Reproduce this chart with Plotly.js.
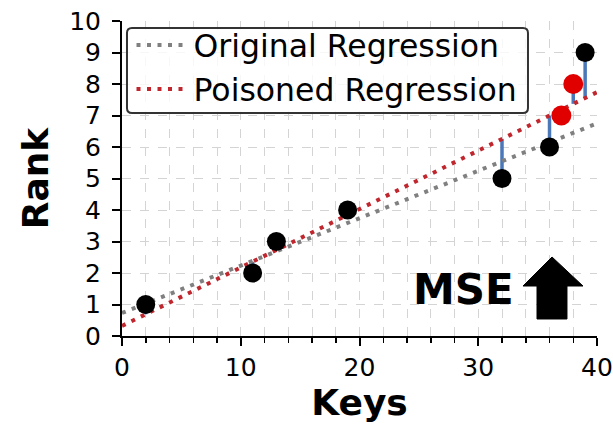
<!DOCTYPE html>
<html>
<head>
<meta charset="utf-8">
<script src="https://cdn.plot.ly/plotly-3.0.1.min.js"></script>
<style>html,body{margin:0;padding:0;background:#fff;}#chart{width:613px;height:425px;}</style>
</head>
<body>
<div id="chart"></div>
<script>
// Legitimate keys and their ranks
const keys = [2, 11, 13, 19, 32, 36, 39];
const ranks = [1, 2, 3, 4, 5, 6, 9];
// Poisoned keys and their ranks
const poisonKeys = [37, 38];
const poisonRanks = [7, 8];
// Regression lines (endpoints)
const origLineX = [0, 40];
const origLineY = [0.73, 6.75];
const poisLineX = [0, 40];
const poisLineY = [0.32, 7.74];
// Residuals: key, rank, value on poisoned line
const residKeys = [2, 11, 13, 19, 32, 36, 37, 38, 39];
const residRanks = [1, 2, 3, 4, 5, 6, 7, 8, 9];
const residLineVals = [0.69, 2.36, 2.73, 3.84, 6.26, 7.0, 7.19, 7.37, 7.56];
// Tick labels
const xTicks = [0, 10, 20, 30, 40];
const yTicks = [0, 1, 2, 3, 4, 5, 6, 7, 8, 9, 10];

const rx = [], ry = [];
residKeys.forEach((k, i) => { rx.push(k, k, null); ry.push(residRanks[i], residLineVals[i], null); });

const FONT = 'DejaVu Sans, sans-serif';
const traces = [
  {x: rx, y: ry, mode: 'lines', line: {color: '#4a78b8', width: 3.5}, showlegend: false, hoverinfo: 'skip'},
  {x: origLineX, y: origLineY, mode: 'lines', name: 'Original Regression',
   line: {color: '#808080', width: 4, dash: '4px,6.5px'}},
  {x: poisLineX, y: poisLineY, mode: 'lines', name: 'Poisoned Regression',
   line: {color: '#c0262d', width: 4, dash: '4px,6.5px'}},
  {x: keys, y: ranks, mode: 'markers', marker: {color: '#000', size: 19}, showlegend: false, cliponaxis: false},
  {x: poisonKeys, y: poisonRanks, mode: 'markers', marker: {color: '#e00000', size: 20}, showlegend: false, cliponaxis: false}
];

// rounded legend frame (paper coords)
const fx0 = 0.0105, fx1 = 0.8547, fy0 = 0.7079, fy1 = 0.9778, crx = 0.0105, cry = 0.0159;
const framePath = `M ${fx0+crx} ${fy1} L ${fx1-crx} ${fy1} Q ${fx1} ${fy1} ${fx1} ${fy1-cry} L ${fx1} ${fy0+cry} Q ${fx1} ${fy0} ${fx1-crx} ${fy0} L ${fx0+crx} ${fy0} Q ${fx0} ${fy0} ${fx0} ${fy0+cry} L ${fx0} ${fy1-cry} Q ${fx0} ${fy1} ${fx0+crx} ${fy1} Z`;

const layout = {
  width: 613, height: 425,
  margin: {l: 122, r: 16, t: 21, b: 89},
  paper_bgcolor: '#fff', plot_bgcolor: '#fff',
  font: {family: FONT, color: '#000'},
  showlegend: true,
  legend: {x: 0.02, y: 1.0095, xanchor: 'left', yanchor: 'top',
    bgcolor: 'rgba(0,0,0,0)', borderwidth: 0,
    font: {size: 31.5, family: FONT, color: '#000'}, itemwidth: 52, tracegroupgap: 0},
  xaxis: {
    range: [0, 40], tickvals: xTicks, ticktext: xTicks.map(String),
    showline: true, linecolor: '#000', linewidth: 2, mirror: false,
    ticks: 'outside', ticklen: 8, tickwidth: 2, tickcolor: '#000',
    tickfont: {size: 25, family: FONT}, ticklabelstandoff: 0,
    showgrid: true, gridcolor: '#d4d4d4', gridwidth: 1, griddash: 'dash',
    minor: {dtick: 2, tick0: 0, ticks: 'outside', ticklen: 5, tickwidth: 1.5, tickcolor: '#000',
            showgrid: true, gridcolor: '#d4d4d4', gridwidth: 1, griddash: 'dash'},
    zeroline: false, automargin: false,
    title: {text: '<b>Keys</b>', font: {size: 36, family: FONT}, standoff: 6}
  },
  yaxis: {
    range: [0, 10], tickvals: yTicks, ticktext: yTicks.map(String),
    showline: true, linecolor: '#000', linewidth: 2, mirror: false,
    ticks: 'outside', ticklen: 8, tickwidth: 2, tickcolor: '#000',
    tickfont: {size: 25, family: FONT}, ticklabelstandoff: 6,
    showgrid: true, gridcolor: '#d4d4d4', gridwidth: 1, griddash: 'dash',
    zeroline: false, automargin: false,
    title: {text: '<b>Rank</b>', font: {size: 36, family: FONT}, standoff: 10}
  },
  annotations: [
    {xref: 'paper', yref: 'paper', x: 0.718, y: 0.149, xanchor: 'center', yanchor: 'middle',
     text: '<b>MSE</b>', showarrow: false, font: {size: 42, family: FONT, color: '#000'}}
  ],
  shapes: [
    {type: 'path', xref: 'paper', yref: 'paper', layer: 'above', fillcolor: 'rgba(255,255,255,0.8)',
     line: {color: '#333', width: 2}, path: framePath},
    {type: 'path', xref: 'paper', yref: 'paper', fillcolor: '#000', line: {color: '#000', width: 1},
     path: 'M 0.9053 0.2508 L 0.9705 0.1587 L 0.9368 0.1587 L 0.9368 0.054 L 0.8737 0.054 L 0.8737 0.1587 L 0.8442 0.1587 Z'}
  ]
};

Plotly.newPlot('chart', traces, layout, {displayModeBar: false, staticPlot: true});
</script>
</body>
</html>
